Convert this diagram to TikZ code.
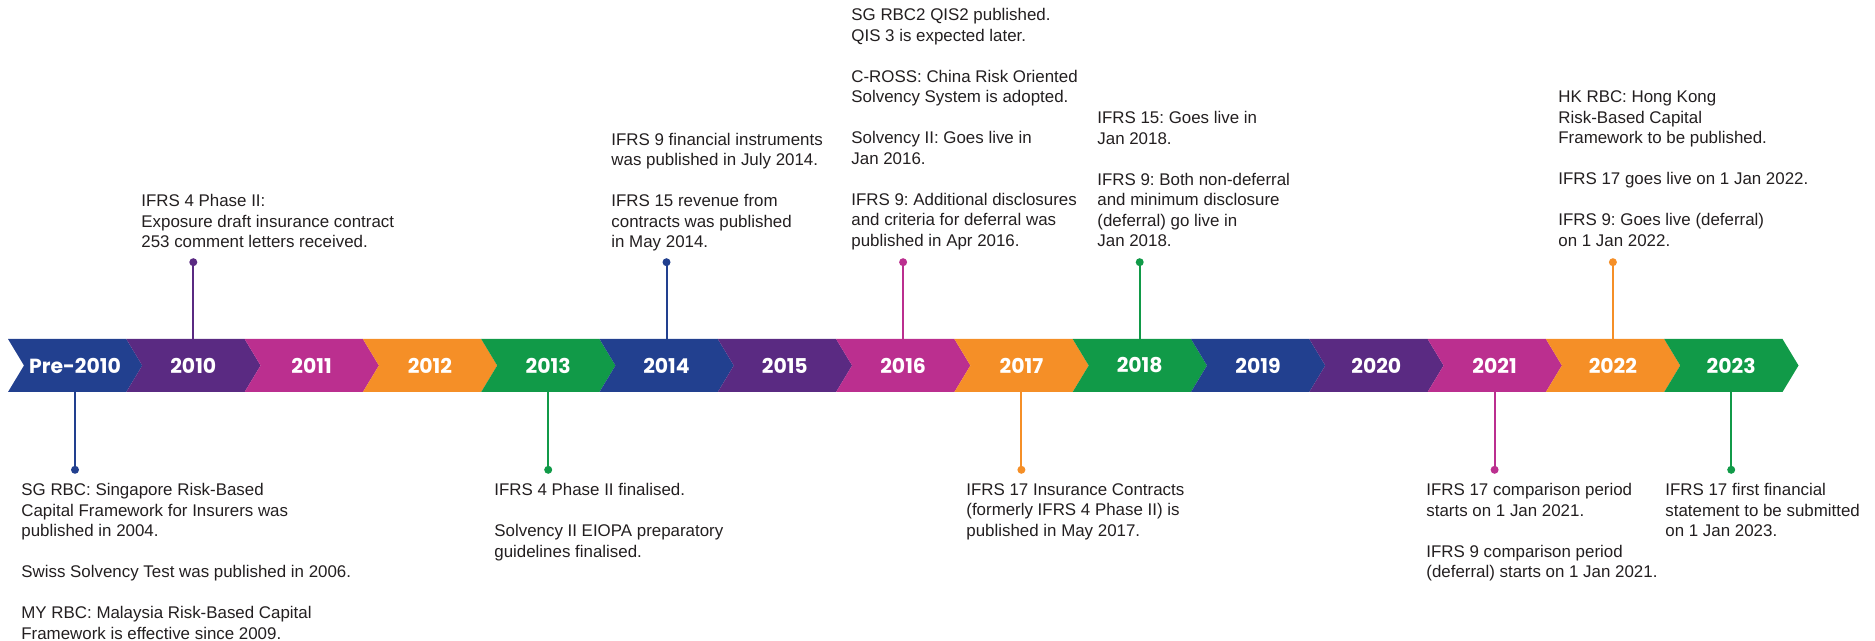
\documentclass[tikz,border=0pt]{standalone}
\usepackage{fontspec}
\setmainfont{Liberation Sans}
\newfontfamily\yearfont{Poppins}
\usetikzlibrary{positioning}
\frenchspacing

\definecolor{tlblue}{HTML}{22408F}
\definecolor{tlpurple}{HTML}{5A2A82}
\definecolor{tlmagenta}{HTML}{BB2F8F}
\definecolor{tlorange}{HTML}{F58F27}
\definecolor{tlgreen}{HTML}{119A48}
\definecolor{tltext}{HTML}{231F20}

\tikzset{
	yearlabel/.style={minimum height=26.5pt, minimum width=59pt, inner sep=0pt, text=white,
		font=\yearfont\bfseries\fontsize{10.2}{12}\selectfont},
	note/.style={anchor=north west, align=left, inner sep=0pt, text=tltext,
		font=\fontsize{8.45}{10.25}\selectfont},
	stem/.style={line width=1pt, draw=#1},
	dot/.style={circle, fill=#1, inner sep=0pt, minimum size=4pt}
}

\begin{document}
\begin{tikzpicture}[x=0.5pt, y=-0.5pt]
	\useasboundingbox (0,0) rectangle (1875,641);
	
	%Blocks
	\foreach \i/\yr/\col in {0/Pre-2010/tlblue, 1/2010/tlpurple, 2/2011/tlmagenta,
		3/2012/tlorange, 4/2013/tlgreen, 5/2014/tlblue, 6/2015/tlpurple, 7/2016/tlmagenta,
		8/2017/tlorange, 9/2018/tlgreen, 10/2019/tlblue, 11/2020/tlpurple, 12/2021/tlmagenta,
		13/2022/tlorange, 14/2023/tlgreen}{
		\pgfmathsetmacro\xa{8+118.3*\i}
		\pgfmathsetmacro\xb{\xa+118.3}
		\fill[\col] (\xa,339) -- (\xb,339) -- (\xb+16,365.5) -- (\xb,392) -- (\xa,392)
			-- (\xa+16,365.5) -- cycle;
		\node[yearlabel] (y\i) at (\xa+67,365.5) {\yr};
	}
	
	%Dots
	\node[dot=tlblue, below=36.5pt of y0] (d0) {};
	\node[dot=tlpurple, above=36pt of y1] (d1) {};
	\node[dot=tlgreen, below=36.5pt of y4] (d4) {};
	\node[dot=tlblue, above=36pt of y5] (d5) {};
	\node[dot=tlmagenta, above=36pt of y7] (d7) {};
	\node[dot=tlorange, below=36.5pt of y8] (d8) {};
	\node[dot=tlgreen, above=36pt of y9] (d9) {};
	\node[dot=tlmagenta, below=36.5pt of y12] (d12) {};
	\node[dot=tlorange, above=36pt of y13] (d13) {};
	\node[dot=tlgreen, below=36.5pt of y14] (d14) {};
	
	%Links
	\draw[stem=tlblue] (y0.south) -- (d0.center);
	\draw[stem=tlpurple] (y1.north) -- (d1.center);
	\draw[stem=tlgreen] (y4.south) -- (d4.center);
	\draw[stem=tlblue] (y5.north) -- (d5.center);
	\draw[stem=tlmagenta] (y7.north) -- (d7.center);
	\draw[stem=tlorange] (y8.south) -- (d8.center);
	\draw[stem=tlgreen] (y9.north) -- (d9.center);
	\draw[stem=tlmagenta] (y12.south) -- (d12.center);
	\draw[stem=tlorange] (y13.north) -- (d13.center);
	\draw[stem=tlgreen] (y14.south) -- (d14.center);
	
	%Notes above
	\node[note] (n1) at (141,194) {IFRS 4 Phase II:\\Exposure draft insurance contract\\253 comment letters received.};
	\node[note] (n5) at (611,132.5) {IFRS 9 financial instruments\\was published in July 2014.\\[10.25pt]
		IFRS 15 revenue from\\contracts was published\\in May 2014.};
	\node[note] (n7) at (851,8) {SG RBC2 QIS2 published.\\QIS 3 is expected later.\\[10.25pt]
		C-ROSS: China Risk Oriented\\Solvency System is adopted.\\[10.25pt]
		Solvency II: Goes live in\\Jan 2016.\\[10.25pt]
		IFRS 9: Additional disclosures\\and criteria for deferral was\\published in Apr 2016.};
	\node[note] (n9) at (1097,111) {IFRS 15: Goes live in\\Jan 2018.\\[10.25pt]
		IFRS 9: Both non-deferral\\and minimum disclosure\\(deferral) go live in\\Jan 2018.};
	\node[note] (n13) at (1558,90.5) {HK RBC: Hong Kong\\Risk-Based Capital\\Framework to be published.\\[10.25pt]
		IFRS 17 goes live on 1 Jan 2022.\\[10.25pt]
		IFRS 9: Goes live (deferral)\\on 1 Jan 2022.};
	
	%Notes below
	\node[note] (n0) at (21,483) {SG RBC: Singapore Risk-Based\\Capital Framework for Insurers was\\published in 2004.\\[10.25pt]
		Swiss Solvency Test was published in 2006.\\[10.25pt]
		MY RBC: Malaysia Risk-Based Capital\\Framework is effective since 2009.};
	\node[note] (n4) at (494,483) {IFRS 4 Phase II finalised.\\[10.25pt]
		Solvency II EIOPA preparatory\\guidelines finalised.};
	\node[note] (n8) at (966,483) {IFRS 17 Insurance Contracts\\(formerly IFRS 4 Phase II) is\\published in May 2017.};
	\node[note] (n12) at (1426,483) {IFRS 17 comparison period\\starts on 1 Jan 2021.\\[10.25pt]
		IFRS 9 comparison period\\(deferral) starts on 1 Jan 2021.};
	\node[note] (n14) at (1665,483) {IFRS 17 first financial\\statement to be submitted\\on 1 Jan 2023.};
	
\end{tikzpicture}
\end{document}
